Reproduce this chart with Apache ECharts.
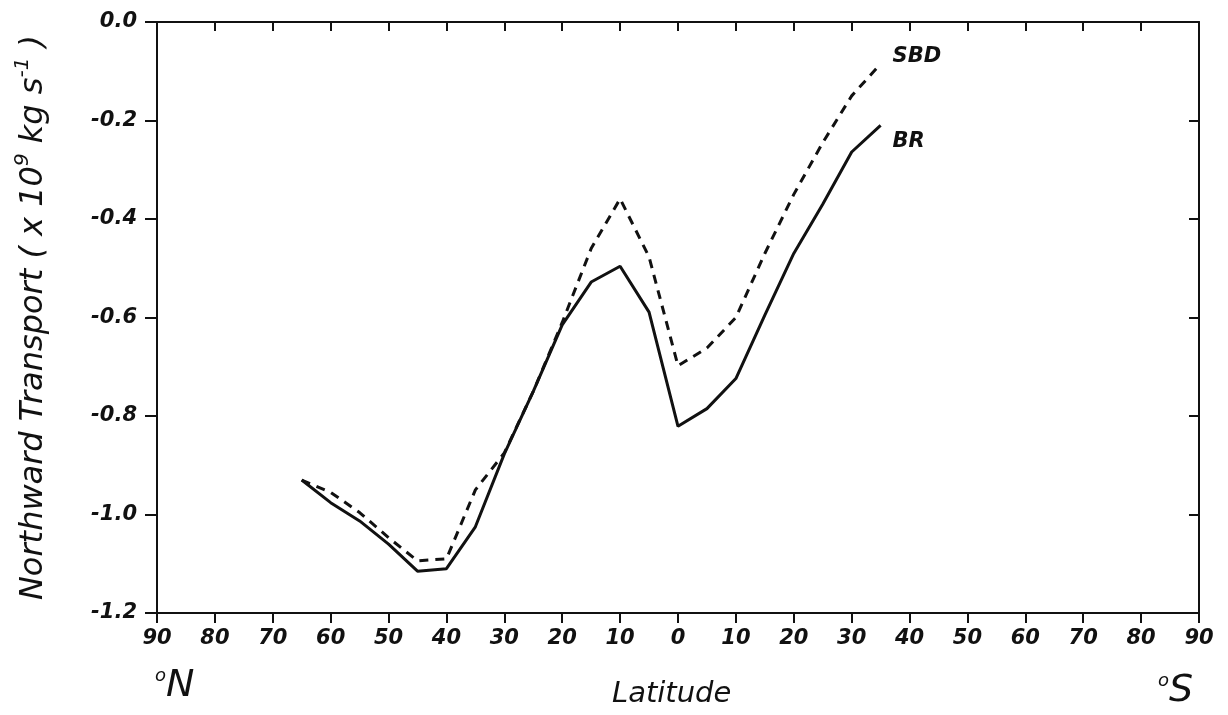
<!DOCTYPE html>
<html>
<head>
<meta charset="utf-8">
<script src="https://cdn.jsdelivr.net/npm/echarts@6/dist/echarts.min.js"></script>
<style>
  html, body { margin: 0; padding: 0; background: #fff; }
  #main { width: 1228px; height: 715px; }
</style>
</head>
<body>
<div id="main"></div>
<script>
const chartDom = document.getElementById("main");
const myChart = echarts.init(chartDom);

// latitude, positive = north, negative = south
const latitudes = [65, 60, 55, 50, 45, 40, 35, 30, 25, 20, 15, 10, 5, 0, -5, -10, -15, -20, -25, -30, -35];

const BR = [-0.93, -0.976, -1.013, -1.06, -1.115, -1.11, -1.025, -0.877, -0.75, -0.615, -0.528, -0.496, -0.589,
    -0.821, -0.785, -0.724, -0.595, -0.47, -0.37, -0.264, -0.21];

const SBD = [-0.93, -0.955, -0.996, -1.047, -1.094, -1.09, -0.95, -0.875, -0.75, -0.61, -0.46, -0.359, -0.477,
    -0.698, -0.662, -0.6, -0.47, -0.35, -0.245, -0.15, -0.085];

const yTicks = ["0.0", "-0.2", "-0.4", "-0.6", "-0.8", "-1.0", "-1.2"];

const FONT = "DejaVu Sans";
const ink = "#111";

const toPairs = (vals) => latitudes.map((lat, i) => [lat, vals[i]]);

const tickFont = {
    color: ink,
    fontFamily: FONT,
    fontStyle: "italic",
    fontWeight: "bold",
    fontSize: 21,
};

const option = {
    backgroundColor: "#fff",
    animation: false,
    grid: { left: 157, right: 29, top: 22, bottom: 102 },
    xAxis: [
        {
            type: "value",
            min: -90,
            max: 90,
            interval: 10,
            inverse: true,
            position: "bottom",
            axisLine: { show: true, onZero: false, lineStyle: { color: ink, width: 2 } },
            axisTick: { show: true, inside: false, length: 10, lineStyle: { color: ink, width: 2 } },
            splitLine: { show: false },
            axisLabel: {
                ...tickFont,
                formatter: (v) => String(Math.abs(v)),
                margin: 15,
            },
        },
        {
            type: "value",
            min: -90,
            max: 90,
            interval: 10,
            inverse: true,
            position: "top",
            axisLine: { show: true, onZero: false, lineStyle: { color: ink, width: 2 } },
            axisTick: { show: true, inside: true, length: 9, lineStyle: { color: ink, width: 2 } },
            axisLabel: { show: false },
            splitLine: { show: false },
        },
    ],
    yAxis: [
        {
            type: "value",
            min: -1.2,
            max: 0,
            interval: 0.2,
            position: "left",
            axisLine: { show: true, onZero: false, lineStyle: { color: ink, width: 2 } },
            axisTick: { show: true, inside: false, length: 12, lineStyle: { color: ink, width: 2 } },
            splitLine: { show: false },
            axisLabel: {
                ...tickFont,
                formatter: (v) => yTicks[Math.round(-v / 0.2)],
                margin: 20,
            },
            name: "Northward Transport ( x 10{sup|9} kg s{sup|-1} )",
            nameLocation: "middle",
            nameGap: 102,
            nameTextStyle: {
                color: ink,
                fontFamily: FONT,
                fontStyle: "italic",
                fontSize: 32,
                rich: {
                    sup: {
                        fontFamily: FONT,
                        fontStyle: "italic",
                        fontSize: 20,
                        color: ink,
                        verticalAlign: "top",
                        padding: [0, 0, 22, 0],
                    },
                },
            },
        },
        {
            type: "value",
            min: -1.2,
            max: 0,
            interval: 0.2,
            position: "right",
            axisLine: { show: true, onZero: false, lineStyle: { color: ink, width: 2 } },
            axisTick: { show: true, inside: true, length: 10, lineStyle: { color: ink, width: 2 } },
            axisLabel: { show: false },
            splitLine: { show: false },
        },
    ],
    series: [
        {
            name: "BR",
            type: "line",
            data: toPairs(BR),
            showSymbol: false,
            lineStyle: { color: ink, width: 3, type: "solid" },
            endLabel: {
                show: true,
                formatter: "BR",
                ...tickFont,
                align: "left",
                verticalAlign: "middle",
                distance: 0,
                offset: [12, 16],
            },
        },
        {
            name: "SBD",
            type: "line",
            data: toPairs(SBD),
            showSymbol: false,
            lineStyle: { color: ink, width: 3, type: [9, 7] },
            endLabel: {
                show: true,
                formatter: "SBD",
                ...tickFont,
                align: "left",
                verticalAlign: "middle",
                distance: 0,
                offset: [12, -7],
            },
        },
    ],
    graphic: [
        {
            type: "text",
            left: 612,
            top: 680,
            style: {
                text: "Latitude",
                fill: ink,
                font: "italic 29px 'DejaVu Sans'",
            },
        },
        {
            type: "text",
            left: 155,
            top: 667,
            style: {
                text: "{o|o}{t|N}",
                rich: {
                    o: { fill: ink, font: "italic 18px 'DejaVu Sans'", verticalAlign: "top", padding: [0, 0, 20, 0] },
                    t: { fill: ink, font: "italic 38px 'DejaVu Sans'" },
                },
            },
        },
        {
            type: "text",
            left: 1158,
            top: 672,
            style: {
                text: "{o|o}{t|S}",
                rich: {
                    o: { fill: ink, font: "italic 18px 'DejaVu Sans'", verticalAlign: "top", padding: [0, 0, 20, 0] },
                    t: { fill: ink, font: "italic 38px 'DejaVu Sans'" },
                },
            },
        },
    ],
};

myChart.setOption(option);
</script>
</body>
</html>
